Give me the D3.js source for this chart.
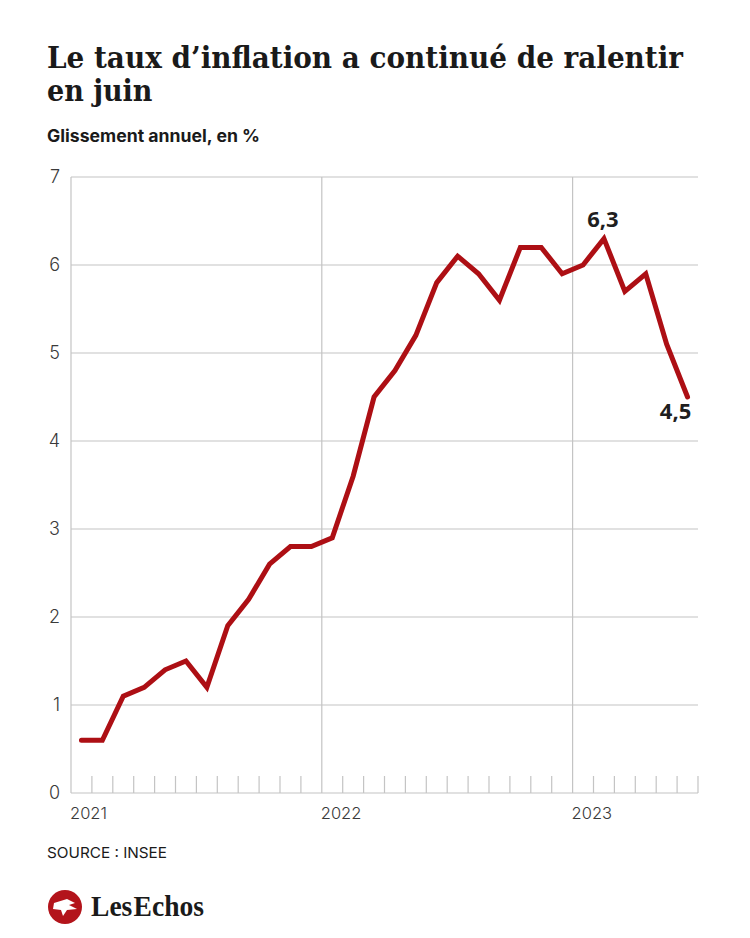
<!DOCTYPE html>
<html>
<head>
<meta charset="utf-8">
<script src="https://cdn.jsdelivr.net/npm/d3@7"></script>
<style>
  body { margin: 0; background: #fff; }
  svg { display: block; }
</style>
</head>
<body>
<svg id="chart"></svg>
<script>
// monthly data, Jan 2021 -> Jun 2023
const months = ["2021-01","2021-02","2021-03","2021-04","2021-05","2021-06","2021-07","2021-08","2021-09","2021-10","2021-11","2021-12",
                "2022-01","2022-02","2022-03","2022-04","2022-05","2022-06","2022-07","2022-08","2022-09","2022-10","2022-11","2022-12",
                "2023-01","2023-02","2023-03","2023-04","2023-05","2023-06"];
const inflation = [0.6,0.6,1.1,1.2,1.4,1.5,1.2,1.9,2.2,2.6,2.8,2.8,
                   2.9,3.6,4.5,4.8,5.2,5.8,6.1,5.9,5.6,6.2,6.2,5.9,
                   6.0,6.3,5.7,5.9,5.1,4.5];
const yearLabels = ["2021","2022","2023"];
const yTicks = [0,1,2,3,4,5,6,7];
const callouts = [{month: "2023-02", text: "6,3", pos: "above"}, {month: "2023-06", text: "4,5", pos: "below"}];

const W = 750, H = 938;
const margin = {top: 177, right: 52, bottom: 145, left: 71};
const width = W - margin.left - margin.right;
const height = H - margin.top - margin.bottom;

const svg = d3.select('#chart').attr('width', W).attr('height', H);

// titles
const titleStyle = sel => sel
  .style('font-family', '"DejaVu Serif", serif')
  .style('font-stretch', 'condensed')
  .style('font-weight', 700)
  .style('font-size', '30px')
  .attr('fill', '#1a1a1a');
svg.append('text')
  .attr('x', 47).attr('y', 68)
  .attr('textLength', 636).attr('lengthAdjust', 'spacingAndGlyphs')
  .call(titleStyle)
  .text("Le taux d\u2019inflation a continué de ralentir");
svg.append('text')
  .attr('x', 47).attr('y', 101)
  .call(titleStyle)
  .text("en juin");
svg.append('text')
  .attr('x', 47).attr('y', 142)
  .attr('textLength', 213).attr('lengthAdjust', 'spacingAndGlyphs')
  .style('font-family', 'Inter, sans-serif')
  .style('font-weight', 700)
  .style('font-size', '17px')
  .attr('fill', '#1a1a1a')
  .text("Glissement annuel, en %");

const chart = svg.append('g')
  .attr('transform', `translate(${margin.left},${margin.top})`);

// equal-width months, axis runs to the start of Jul 2023
const xScale = d3.scaleLinear().domain([0, months.length]).range([0, width]);
const yScale = d3.scaleLinear().domain([0, 7]).range([height, 0]);

const gridColor = '#c4c4c4';

// horizontal grid
chart.append('g')
  .selectAll('line')
  .data(yTicks)
  .join('line')
    .attr('x1', 0).attr('x2', width)
    .attr('y1', d => yScale(d)).attr('y2', d => yScale(d))
    .attr('stroke', gridColor).attr('stroke-width', 1.2);

// year lines (full height) + left axis line
const yearIdx = yearLabels.map(y => months.indexOf(y + "-01"));
chart.append('g')
  .selectAll('line')
  .data(yearIdx)
  .join('line')
    .attr('x1', d => xScale(d)).attr('x2', d => xScale(d))
    .attr('y1', 0).attr('y2', height)
    .attr('stroke', gridColor).attr('stroke-width', 1.2);

// month ticks along the bottom
const monthTicks = d3.range(0, months.length + 1).filter(i => i % 12 !== 0);
chart.append('g')
  .selectAll('line')
  .data(monthTicks)
  .join('line')
    .attr('x1', d => xScale(d)).attr('x2', d => xScale(d))
    .attr('y1', height - 17).attr('y2', height)
    .attr('stroke', gridColor).attr('stroke-width', 1.2);

// y labels
chart.append('g')
  .selectAll('text')
  .data(yTicks)
  .join('text')
    .attr('x', -11)
    .attr('y', d => yScale(d))
    .attr('dy', '0.35em')
    .attr('text-anchor', 'end')
    .style('font-family', 'Inter, sans-serif')
    .style('font-weight', 300)
    .style('font-size', '18px')
    .attr('fill', '#3a3a3a')
    .text(d => d);

// year labels
chart.append('g')
  .selectAll('text')
  .data(yearLabels)
  .join('text')
    .attr('x', (d, i) => xScale(yearIdx[i]) - 1)
    .attr('y', height + 26)
    .style('font-family', 'Inter, sans-serif')
    .style('font-weight', 300)
    .style('font-size', '16.5px')
    .attr('fill', '#3a3a3a')
    .text(d => d);

// line
const line = d3.line()
  .x((d, i) => xScale(i + 0.5))
  .y(d => yScale(d))
  .curve(d3.curveLinear);

chart.append('path')
  .datum(inflation)
  .attr('d', line)
  .attr('fill', 'none')
  .attr('stroke', '#ad0f14')
  .attr('stroke-width', 5)
  .attr('stroke-linejoin', 'miter')
  .attr('stroke-linecap', 'round');

// callouts
chart.append('g')
  .selectAll('text')
  .data(callouts)
  .join('text')
    .attr('x', d => xScale(months.indexOf(d.month) + 0.5) + (d.pos === 'below' ? -12 : -1))
    .attr('y', d => {
      const v = inflation[months.indexOf(d.month)];
      return yScale(v) + (d.pos === 'above' ? -12 : 22);
    })
    .attr('text-anchor', 'middle')
    .style('font-family', '"Open Sans", sans-serif')
    .style('font-weight', 700)
    .style('font-size', '22px')
    .attr('fill', '#1f1f1f')
    .text(d => d.text);

// source
svg.append('text')
  .attr('x', 47).attr('y', 858)
  .attr('textLength', 120).attr('lengthAdjust', 'spacingAndGlyphs')
  .style('font-family', 'Inter, sans-serif')
  .style('font-weight', 400)
  .style('font-size', '15px')
  .attr('fill', '#1a1a1a')
  .text("SOURCE : INSEE");

// logo
const logo = svg.append('g').attr('transform', 'translate(65,907)');
logo.append('circle').attr('r', 17).attr('fill', '#b3141b');
logo.append('path')
  .attr('d', 'M-11,-4 L2,-8 L10,-4 L4,-2 L12,2 L2,3 L-2,9 L-4,3 L-12,2 Z')
  .attr('fill', '#fff');
svg.append('text')
  .attr('x', 91).attr('y', 916)
  .attr('textLength', 113).attr('lengthAdjust', 'spacingAndGlyphs')
  .style('font-family', '"Liberation Serif", serif')
  .style('font-weight', 700)
  .style('font-size', '29px')
  .style('word-spacing', '-6px')
  .attr('fill', '#1a1a1a')
  .text("Les Echos");
</script>
</body>
</html>
